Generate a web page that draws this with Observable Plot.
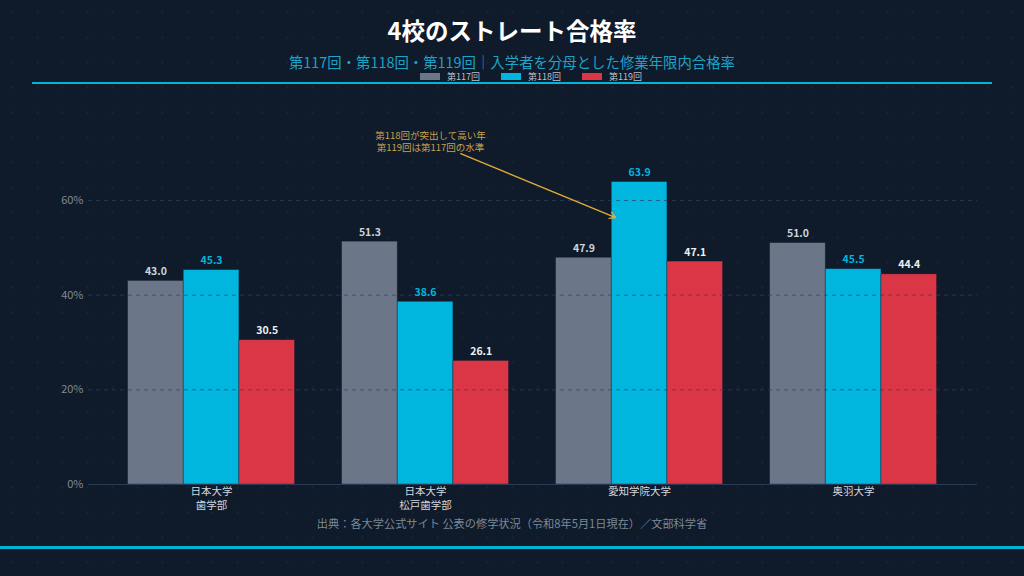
<!DOCTYPE html>
<html><head><meta charset="utf-8">
<script src="https://cdn.jsdelivr.net/npm/d3@7"></script>
<script src="https://cdn.jsdelivr.net/npm/@observablehq/plot@0.6"></script>
<style>
html,body{margin:0;padding:0;background:#0f1a2a;}
body{width:1024px;height:576px;overflow:hidden;position:relative;font-family:"Noto Sans CJK JP","Noto Sans",sans-serif;
  background-image:radial-gradient(rgba(255,255,255,0.035) 1px, transparent 1.2px);background-size:25px 25px;}
.title{position:absolute;left:0;width:1024px;top:13px;text-align:center;color:#ffffff;font-weight:700;font-size:23.5px;line-height:34px;}
.subtitle{position:absolute;left:0;width:1024px;top:51px;text-align:center;color:#1ca3c8;font-size:14.4px;line-height:22px;}
.legend{position:absolute;left:420px;top:70px;height:13px;display:flex;align-items:center;font-size:9px;color:#b8c0ca;}
.legend .item{display:flex;align-items:center;margin-right:21px;}
.legend .sw{width:20px;height:7px;margin-right:7px;}
.rule{position:absolute;left:32px;width:960px;top:82px;height:2px;background:#00b4d8;}
#chart{position:absolute;left:0;top:90px;}
.caption{position:absolute;left:0;width:1024px;top:515px;text-align:center;color:#7d8998;font-size:11.2px;line-height:16px;}
.bottom{position:absolute;left:0;width:1024px;top:546px;height:3px;background:#00b4d8;}
</style>
</head>
<body>
<div class="title" id="title"></div>
<div class="subtitle" id="subtitle"></div>
<div class="legend" id="legend"></div>
<div class="rule"></div>
<div id="chart"></div>
<div class="caption" id="caption"></div>
<div class="bottom"></div>
<script>
// ---- data ----
const titleText = "4校のストレート合格率";
const subtitleText = "第117回・第118回・第119回｜入学者を分母とした修業年限内合格率";
const captionText = "出典：各大学公式サイト 公表の修学状況（令和8年5月1日現在）／文部科学省";
const schools = ["日本大学\n歯学部", "日本大学\n松戸歯学部", "愛知学院大学", "奥羽大学"];
const exams = ["第117回", "第118回", "第119回"];
const rate117 = [43.0, 51.3, 47.9, 51.0];
const rate118 = [45.3, 38.6, 63.9, 45.5];
const rate119 = [30.5, 26.1, 47.1, 44.4];
const yTicks = [0, 20, 40, 60];
const noteLines = ["第118回が突出して高い年", "第119回は第117回の水準"];

// ---- styles ----
const barColors = ["#6b7788", "#00b5de", "#da3645"];
const labelColors = ["#cdd4dc", "#00b5de", "#eef0f2"];
const groupW = 0.78;

document.getElementById("title").textContent = titleText;
document.getElementById("subtitle").textContent = subtitleText;
document.getElementById("caption").textContent = captionText;
const lg = document.getElementById("legend");
exams.forEach((e, i) => {
  const it = document.createElement("div"); it.className = "item";
  const sw = document.createElement("div"); sw.className = "sw"; sw.style.background = barColors[i];
  const tx = document.createElement("span"); tx.textContent = e;
  it.appendChild(sw); it.appendChild(tx); lg.appendChild(it);
});

const series = [rate117, rate118, rate119];
const rows = [];
schools.forEach((s, g) => {
  series.forEach((vals, k) => {
    const x1 = g + (k / 3 - 0.5) * groupW;
    rows.push({school: s, g, exam: exams[k], k, value: vals[g], x1, x2: x1 + groupW / 3});
  });
});

const font = '"Noto Sans CJK JP","Noto Sans",sans-serif';
const chart = Plot.plot({
  width: 1024, height: 430,
  marginLeft: 88, marginRight: 47, marginTop: 62.67, marginBottom: 36,
  style: {background: "transparent", color: "#8592a3", fontFamily: font, fontSize: "11px", overflow: "visible"},
  x: {type: "linear", domain: [-0.575, 3.579], axis: null},
  y: {domain: [0, 70], axis: null, label: null},
  color: {domain: exams, range: barColors},
  marks: [
    Plot.rectY(rows, {x1: "x1", x2: "x2", y1: 0, y2: "value", fill: "exam", stroke: "#0f1a2a", strokeOpacity: 0.45, strokeWidth: 0.8}),
    Plot.ruleY(yTicks.filter(d => d > 0), {stroke: "#2f4262", strokeOpacity: 0.7, strokeDasharray: "4,4", strokeWidth: 1}),
    Plot.ruleY([0], {stroke: "#2b3b55", strokeWidth: 1}),
    Plot.text(rows, {x: d => (d.x1 + d.x2) / 2, y: "value", text: d => d.value.toFixed(1), lineAnchor: "bottom", dy: -6,
      fill: d => labelColors[d.k], fontWeight: "bold", fontSize: 10.5}),
    Plot.axisY({ticks: yTicks, tickFormat: d => d + "%", tickSize: 0, tickPadding: 5, fill: "#7f8b9b", fontSize: 11, label: null}),
    Plot.axisX({ticks: schools.map((s, i) => i), tickFormat: i => schools[i], tickSize: 0, tickPadding: 1, fill: "#d3d8de", fontSize: 10.5, lineHeight: 1.3, label: null}),
    Plot.arrow([0], {x1: 1.164, y1: 69.9, x2: 1.888, y2: 56.4, stroke: "#e2ab33", strokeWidth: 1.4, headLength: 7}),
    Plot.text([noteLines.join("\n")], {x: 1.023, y: 72.6, text: d => d, fill: "#c8a24c", fontSize: 9.5, lineHeight: 1.3})
  ]
});
document.getElementById("chart").appendChild(chart);
</script>
</body></html>
